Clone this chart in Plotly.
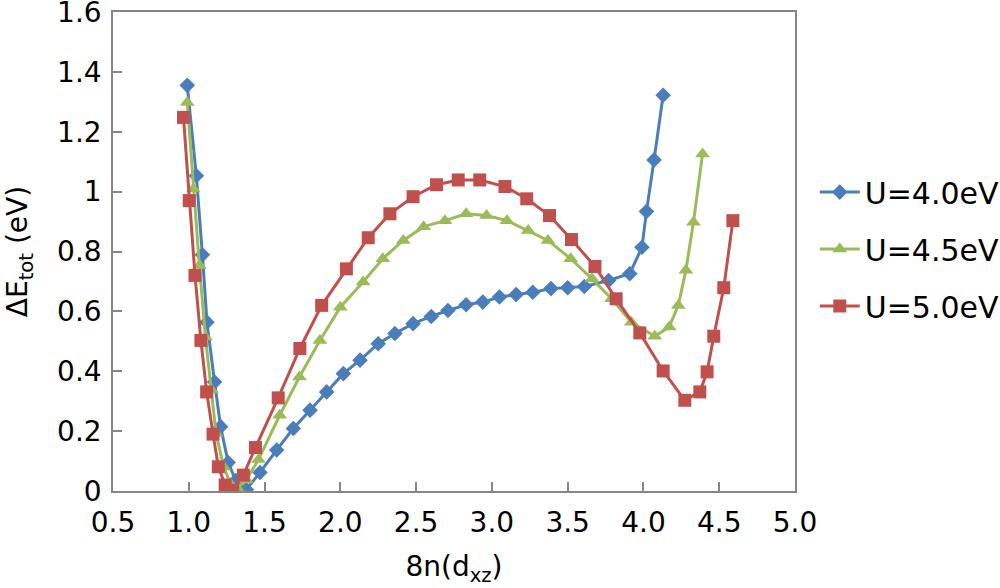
import plotly.graph_objects as go

# U = 4.0 eV
x_u40 = [0.99, 1.05, 1.09, 1.12, 1.17, 1.21, 1.26, 1.31, 1.38, 1.47, 1.58, 1.69, 1.80, 1.91,
         2.02, 2.13, 2.25, 2.36, 2.48, 2.60, 2.71, 2.83, 2.94, 3.05, 3.16, 3.27, 3.39, 3.50,
         3.61, 3.77, 3.91, 3.99, 4.02, 4.07, 4.13]
y_u40 = [1.355, 1.053, 0.789, 0.564, 0.364, 0.215, 0.095, 0.035, 0.005, 0.062, 0.137, 0.209,
         0.270, 0.331, 0.392, 0.437, 0.492, 0.526, 0.559, 0.583, 0.603, 0.622, 0.631, 0.648,
         0.656, 0.664, 0.676, 0.679, 0.683, 0.703, 0.726, 0.814, 0.934, 1.106, 1.322]

# U = 4.5 eV
x_u45 = [0.99, 1.03, 1.07, 1.11, 1.15, 1.18, 1.23, 1.28, 1.32, 1.38, 1.46, 1.60, 1.73, 1.865,
         2.00, 2.15, 2.28, 2.415, 2.55, 2.69, 2.83, 2.965, 3.10, 3.24, 3.37, 3.52, 3.66, 3.79,
         3.92, 4.075, 4.17, 4.23, 4.28, 4.33, 4.39]
y_u45 = [1.298, 1.009, 0.753, 0.514, 0.337, 0.192, 0.080, 0.020, 0.010, 0.037, 0.105, 0.253,
         0.381, 0.503, 0.614, 0.698, 0.776, 0.837, 0.883, 0.903, 0.926, 0.920, 0.903, 0.870,
         0.837, 0.776, 0.709, 0.642, 0.564, 0.517, 0.548, 0.620, 0.737, 0.898, 1.126]

# U = 5.0 eV
x_u50 = [0.965, 1.003, 1.041, 1.08, 1.118, 1.16, 1.195, 1.24, 1.29, 1.36, 1.44, 1.59, 1.733,
         1.877, 2.04, 2.184, 2.327, 2.48, 2.635, 2.778, 2.92, 3.086, 3.23, 3.38, 3.525, 3.68,
         3.82, 3.976, 4.13, 4.273, 4.372, 4.42, 4.464, 4.53, 4.59]
y_u50 = [1.248, 0.970, 0.720, 0.503, 0.331, 0.190, 0.081, 0.020, 0.003, 0.053, 0.145, 0.311,
         0.476, 0.620, 0.742, 0.846, 0.926, 0.983, 1.023, 1.039, 1.039, 1.017, 0.976, 0.920,
         0.840, 0.750, 0.642, 0.528, 0.401, 0.303, 0.331, 0.398, 0.517, 0.679, 0.903]

series_names = ["U=4.0eV", "U=4.5eV", "U=5.0eV"]
series_colors = ["#4A7EBB", "#9BBB59", "#C0504D"]

y_tickvals = [0, 0.2, 0.4, 0.6, 0.8, 1.0, 1.2, 1.4, 1.6]
y_ticktext = ["0", "0.2", "0.4", "0.6", "0.8", "1", "1.2", "1.4", "1.6"]
x_tickvals = [0.5, 1.0, 1.5, 2.0, 2.5, 3.0, 3.5, 4.0, 4.5, 5.0]
x_ticktext = ["0.5", "1.0", "1.5", "2.0", "2.5", "3.0", "3.5", "4.0", "4.5", "5.0"]

FONT = "DejaVu Sans"
FS = 28

fig = go.Figure()
data = [(x_u40, y_u40, "diamond", 12), (x_u45, y_u45, "triangle-up", 13), (x_u50, y_u50, "square", 13)]
for i, (xs, ys, sym, sz) in enumerate(data):
    fig.add_trace(go.Scatter(
        x=xs, y=ys, mode="lines+markers", name=series_names[i],
        legendgroup=f"g{i}",
        line=dict(color=series_colors[i], width=3),
        marker=dict(symbol=sym, size=sz, color=series_colors[i]),
    ))

axis_common = dict(
    showline=True, linecolor="#868686", linewidth=1.5, mirror=True,
    ticks="inside", ticklen=9, tickcolor="#868686", tickwidth=1.5,
    showgrid=False, zeroline=False, ticklabeloverflow="allow",
    tickfont=dict(family=FONT, size=FS, color="black"),
)

fig.update_layout(
    width=1000, height=588,
    margin=dict(l=113, r=205, t=12, b=97, autoexpand=False),
    paper_bgcolor="white", plot_bgcolor="white",
    font=dict(family=FONT, size=FS, color="black"),
    xaxis=dict(range=[0.5, 5.0], tickvals=x_tickvals, ticktext=x_ticktext,
               ticklabelstandoff=6, automargin=False,
               title=dict(text="8n(d<sub>xz</sub>)", font=dict(family=FONT, size=FS), standoff=18),
               **axis_common),
    yaxis=dict(range=[0, 1.6], tickvals=y_tickvals, ticktext=y_ticktext,
               ticklabelstandoff=4, automargin=False,
               title=dict(text="ΔE<sub>tot</sub> (eV)", font=dict(family=FONT, size=FS), standoff=21),
               **axis_common),
    legend=dict(x=1.029, y=0.505, xanchor="left", yanchor="middle", xref="paper", yref="paper",
                font=dict(family=FONT, size=30), tracegroupgap=15, itemwidth=40,
                bgcolor="rgba(0,0,0,0)"),
    showlegend=True,
)

fig.write_html("out.html", config={"displayModeBar": False},
               post_script="document.body.style.margin='0';")
